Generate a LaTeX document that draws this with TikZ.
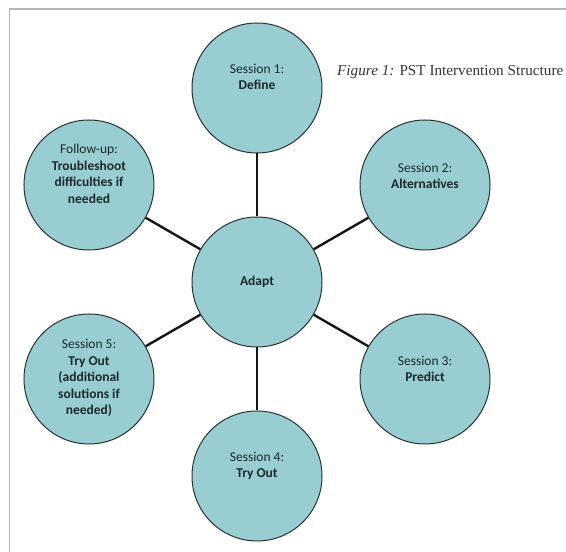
\documentclass[tikz,border=0pt]{standalone}
\usepackage{fontspec}
\setmainfont{Carlito}
\newfontfamily\captionfont{Liberation Serif}

\begin{document}
\begin{tikzpicture}[x=1pt,y=1pt,
  sess/.style={circle,draw=borderColor,line width=1pt,fill=fillColor,minimum size=130,inner sep=0pt},
  lbl/.style={text=textColor,align=center,inner sep=0pt,font=\fontsize{13.5}{16.5}\selectfont},
  link/.style={draw=linkColor,line width=2.4pt}]
\definecolor{fillColor}{RGB}{152,205,210}
\definecolor{borderColor}{RGB}{40,52,54}
\definecolor{textColor}{RGB}{28,40,44}
\definecolor{linkColor}{RGB}{22,22,22}
\definecolor{frameColor}{RGB}{182,182,182}
\definecolor{captionColor}{RGB}{55,55,55}
\path[use as bounding box,fill=white] (0,0) rectangle (566,552);

% page frame
\path[draw=frameColor,line width=1.8pt] (566,543) -- (9.5,543) -- (9.5,0);

% circles
\node[sess] (adapt) at (257,270) {};
\node[sess] (define) at ([shift={(90:194)}]adapt.center) {};
\node[sess] (alternatives) at ([shift={(30:194)}]adapt.center) {};
\node[sess] (predict) at ([shift={(-30:194)}]adapt.center) {};
\node[sess] (tryout) at ([shift={(-90:194)}]adapt.center) {};
\node[sess] (tryoutmore) at ([shift={(210:194)}]adapt.center) {};
\node[sess] (followup) at ([shift={(150:194)}]adapt.center) {};

% spokes
\draw[link] (adapt) -- (define);
\draw[link] (adapt) -- (alternatives);
\draw[link] (adapt) -- (predict);
\draw[link] (adapt) -- (tryout);
\draw[link] (adapt) -- (tryoutmore);
\draw[link] (adapt) -- (followup);

% texts
\node[lbl] (adaptText) at (adapt.center) {\textbf{Adapt}};
\node[lbl] (defineText) at ([yshift=11]define.center) {Session 1:\\\textbf{Define}};
\node[lbl] (alternativesText) at ([yshift=9]alternatives.center) {Session 2:\\\textbf{Alternatives}};
\node[lbl] (predictText) at ([yshift=10]predict.center) {Session 3:\\\textbf{Predict}};
\node[lbl] (tryoutText) at ([yshift=10]tryout.center) {Session 4:\\\textbf{Try Out}};
\node[lbl] (tryoutmoreText) at ([yshift=1]tryoutmore.center) {Session 5:\\\textbf{Try Out}\\\textbf{(additional}\\\textbf{solutions if}\\\textbf{needed)}};
\node[lbl] (followupText) at ([yshift=11]followup.center) {Follow-up:\\\textbf{Troubleshoot}\\\textbf{difficulties if}\\\textbf{needed}};

% caption
\node[text=captionColor,anchor=base west,inner sep=0pt,font=\captionfont\fontsize{15.2}{18}\selectfont] (caption) at (337,476) {\textit{Figure 1:} PST Intervention Structure};
\end{tikzpicture}
\end{document}
